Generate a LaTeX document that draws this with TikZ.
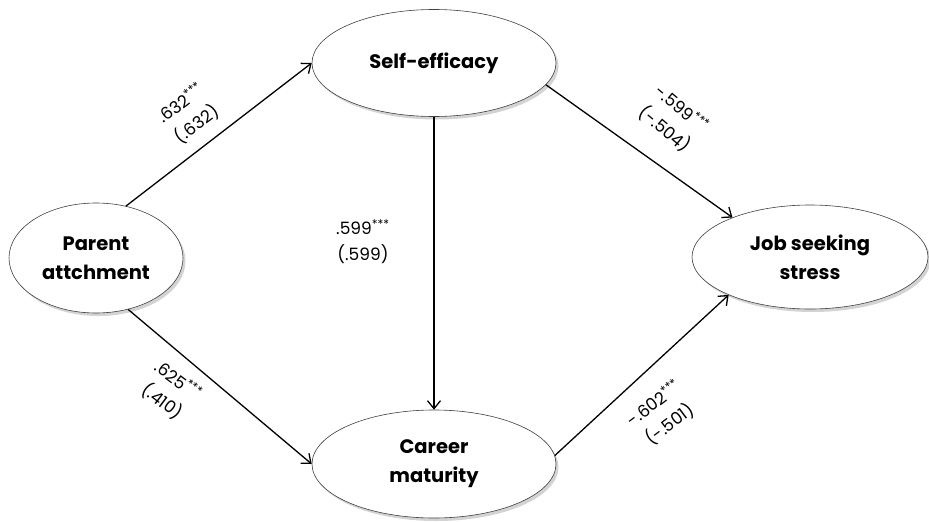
\documentclass[tikz,border=0pt]{standalone}
\usepackage{fontspec}
\setmainfont{Poppins}
\usetikzlibrary{shapes.geometric,shadows,arrows.meta}
\begin{document}
\begin{tikzpicture}[x=1pt,y=-1pt,
            var/.style = {ellipse,
                draw=black!75,
                line width=0.6pt,
                fill=white,
                align=center,
                inner sep=0pt,
                font=\bfseries\fontsize{19.5}{29}\selectfont,
                drop shadow={shadow xshift=2.5pt,shadow yshift=-3pt,opacity=0.35},
                },
            path/.style = {line width=1.3pt,
                -{Straight Barb[length=8pt,width=13pt,line width=1.3pt]},
                },
            coef/.style = {align=center,
                inner sep=1pt,
                font=\fontsize{17}{26}\selectfont,
                }]

        \useasboundingbox (0,0) rectangle (929,522);

        % Variables
        \node[var,minimum width=174pt,minimum height=110pt] (PA) at (96,258) {Parent\\attchment};
        \node[var,minimum width=244pt,minimum height=107pt] (SE) at (434,63) {Self-efficacy};
        \node[var,minimum width=244pt,minimum height=108pt] (CM) at (434,464) {Career\\maturity};
        \node[var,minimum width=236pt,minimum height=104pt] (JS) at (810,257) {Job seeking\\stress};

        % Paths
        \draw[path] (PA.60) -- (SE.west);
        \draw[path] (PA.-58) -- (CM.west);
        \draw[path] (SE.south) -- (CM.north);
        \draw[path] (SE.-11) -- (JS.153);
        \draw[path] (CM.4) -- (JS.205);

        % Coefficients
        \node[coef,rotate=37] (c1) at (189,114) {.632\textsuperscript{***}\\(.632)};
        \node[coef,rotate=-40] (c2) at (673,119) {-.599\textsuperscript{***}\\(-.504)};
        \node[coef,rotate=-37] (c3) at (170,391) {.625\textsuperscript{***}\\(.410)};
        \node[coef,rotate=37] (c4) at (662,414) {-.602\textsuperscript{***}\\(-.501)};
        \node[coef] (c5) at (363,242) {.599\textsuperscript{***}\\(.599)};

\end{tikzpicture}
\end{document}
